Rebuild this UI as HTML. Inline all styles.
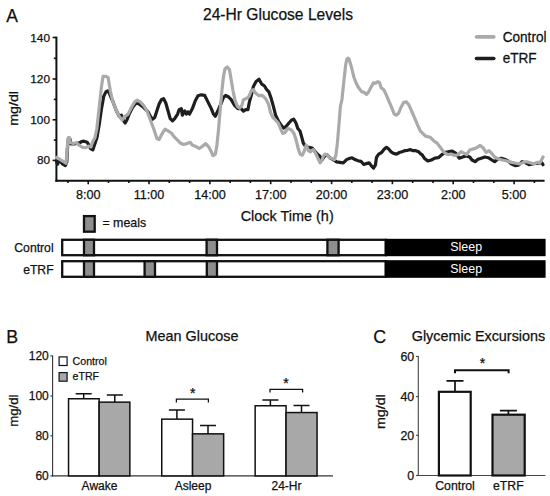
<!DOCTYPE html>
<html><head><meta charset="utf-8"><title>Figure</title>
<style>
html,body{margin:0;padding:0;background:#fff;}
body{width:550px;height:496px;overflow:hidden;font-family:"Liberation Sans",sans-serif;}
svg{display:block;}
svg text{font-family:"Liberation Sans",sans-serif;fill:#111;stroke:#111;stroke-width:0.25px;}
</style></head><body>
<svg width="550" height="496" viewBox="0 0 550 496">
<rect width="550" height="496" fill="#fff"/>
<text x="6.2" y="21.7" font-size="17.5">A</text>
<text x="278" y="19.6" font-size="15.6" text-anchor="middle">24-Hr Glucose Levels</text>
<g stroke="#111" stroke-width="2" fill="none">
<path d="M56.4,36.6 V181.8"/>
<path d="M55.4,180.8 H544.6"/>
</g>
<g stroke="#111" stroke-width="1.6" fill="none">
<path d="M52.6,37.5 H56"/>
<path d="M52.6,79 H56"/>
<path d="M52.6,119.8 H56"/>
<path d="M52.6,160.4 H56"/>
<path d="M53.8,58.3 H56"/>
<path d="M53.8,99.4 H56"/>
<path d="M53.8,140.1 H56"/>
<path d="M67.9,181 V183"/>
<path d="M88.2,181 V184.2"/>
<path d="M108.5,181 V183"/>
<path d="M128.8,181 V183"/>
<path d="M149.0,181 V184.2"/>
<path d="M169.3,181 V183"/>
<path d="M189.6,181 V183"/>
<path d="M209.9,181 V184.2"/>
<path d="M230.2,181 V183"/>
<path d="M250.4,181 V183"/>
<path d="M270.7,181 V184.2"/>
<path d="M291.0,181 V183"/>
<path d="M311.3,181 V183"/>
<path d="M331.6,181 V184.2"/>
<path d="M351.8,181 V183"/>
<path d="M372.1,181 V183"/>
<path d="M392.4,181 V184.2"/>
<path d="M412.7,181 V183"/>
<path d="M433.0,181 V183"/>
<path d="M453.2,181 V184.2"/>
<path d="M473.5,181 V183"/>
<path d="M493.8,181 V183"/>
<path d="M514.1,181 V184.2"/>
<path d="M534.4,181 V183"/>
</g>
<text x="50" y="41.5" font-size="11.8" text-anchor="end">140</text>
<text x="50" y="83.0" font-size="11.8" text-anchor="end">120</text>
<text x="50" y="123.8" font-size="11.8" text-anchor="end">100</text>
<text x="50" y="164.4" font-size="11.8" text-anchor="end">80</text>
<text x="88.2" y="199.2" font-size="12.6" text-anchor="middle">8:00</text>
<text x="149.0" y="199.2" font-size="12.6" text-anchor="middle">11:00</text>
<text x="209.9" y="199.2" font-size="12.6" text-anchor="middle">14:00</text>
<text x="270.7" y="199.2" font-size="12.6" text-anchor="middle">17:00</text>
<text x="331.6" y="199.2" font-size="12.6" text-anchor="middle">20:00</text>
<text x="392.4" y="199.2" font-size="12.6" text-anchor="middle">23:00</text>
<text x="453.2" y="199.2" font-size="12.6" text-anchor="middle">2:00</text>
<text x="514.1" y="199.2" font-size="12.6" text-anchor="middle">5:00</text>
<text transform="translate(18.2,108.4) rotate(-90) scale(1.15,1)" font-size="12.4" text-anchor="middle">mg/dl</text>
<path d="M56.5,161.5 L57.6,164.2 L58.6,161.0 L60.4,161.5 L62.7,164.2 L65.3,165.6 L66.8,162.0 L67.3,150.0 L68.4,138.5 L69.8,138.5 L71.1,144.0 L73.7,143.8 L77.1,143.4 L79.5,142.9 L81.5,141.6 L84.0,141.2 L87.1,142.2 L88.8,145.0 L90.5,148.6 L92.8,149.9 L94.8,144.1 L97.0,137.4 L99.3,124.1 L101.5,108.6 L103.7,96.4 L105.9,91.9 L107.7,90.8 L109.2,93.0 L111.5,98.6 L112.6,100.8 L115.9,109.7 L119.2,116.3 L121.4,115.2 L123.7,120.8 L125.2,123.0 L127.0,119.7 L129.2,114.1 L132.5,107.5 L135.9,103.0 L139.2,104.1 L142.5,106.4 L145.8,109.7 L148.1,111.9 L150.3,116.3 L152.5,119.2 L154.7,117.5 L156.9,110.8 L159.1,104.1 L161.4,99.7 L163.6,98.6 L165.8,103.0 L168.0,110.8 L170.2,118.6 L172.5,120.8 L174.7,118.6 L177.6,114.1 L179.1,109.7 L181.3,108.6 L182.4,115.2 L184.7,110.8 L186.4,114.1 L188.0,111.9 L189.5,114.1 L192.4,108.6 L195.3,100.8 L198.0,95.7 L201.3,94.8 L204.6,95.3 L207.9,101.9 L211.3,108.6 L213.5,114.1 L215.3,116.3 L217.9,110.8 L221.3,103.0 L223.5,97.5 L225.7,95.3 L228.6,97.0 L231.2,99.7 L234.6,105.3 L237.9,108.6 L241.2,108.6 L243.4,111.2 L245.7,109.7 L247.9,109.7 L249.4,101.9 L251.6,94.2 L253.4,86.4 L256.1,81.5 L259.0,79.3 L261.8,84.2 L264.5,86.0 L266.7,89.7 L268.9,91.9 L271.2,98.6 L273.4,106.4 L275.6,115.2 L278.3,120.8 L280.5,124.1 L283.4,128.1 L286.3,126.3 L288.9,123.0 L291.6,120.1 L293.8,119.2 L296.0,123.0 L297.8,128.5 L300.0,131.0 L301.8,137.4 L303.3,143.0 L305.5,146.3 L308.9,147.4 L312.2,148.1 L314.4,150.7 L317.3,154.1 L320.0,156.3 L322.2,159.6 L324.4,156.3 L327.1,154.7 L329.9,157.8 L333.3,159.6 L336.6,161.8 L339.9,162.3 L343.3,162.9 L346.6,159.6 L349.2,158.5 L352.1,157.8 L355.0,159.6 L358.1,160.7 L361.0,161.4 L363.9,164.5 L366.5,163.6 L369.2,162.9 L371.4,165.8 L373.6,168.0 L375.4,165.1 L376.5,157.4 L378.7,154.1 L381.6,152.5 L384.3,149.0 L386.5,147.4 L388.7,149.0 L391.0,151.8 L393.6,153.4 L396.5,154.1 L399.4,152.5 L402.0,151.8 L404.7,150.7 L407.6,150.3 L410.5,149.6 L413.1,150.7 L415.8,150.7 L418.7,151.8 L420.9,154.1 L422.0,154.7 L424.3,158.2 L427.8,161.0 L431.3,160.0 L434.8,158.2 L438.3,157.7 L441.8,154.7 L445.3,152.4 L448.8,151.7 L452.3,151.2 L455.7,153.1 L459.2,158.2 L462.7,157.0 L466.2,155.9 L469.7,157.0 L472.0,160.0 L475.1,161.7 L477.9,159.3 L481.3,158.2 L484.8,157.0 L488.3,157.7 L491.8,160.0 L494.6,161.7 L497.6,159.3 L501.1,158.2 L504.6,159.3 L508.1,161.0 L511.6,164.0 L515.1,165.6 L518.6,165.2 L522.1,161.7 L525.6,162.8 L529.1,164.7 L532.5,164.0 L536.0,163.3 L539.5,162.8 L541.9,162.8 L543.0,164.7" fill="none" stroke="#1e1e1e" stroke-width="3.2" stroke-linejoin="round" stroke-linecap="round"/>
<path d="M56.5,157.5 L59.0,158.8 L61.5,160.3 L64.0,161.8 L66.0,163.3 L66.9,153.0 L67.7,141.5 L68.4,137.6 L69.4,137.6 L70.2,142.4 L73.1,143.5 L76.3,142.7 L79.5,145.5 L82.6,147.4 L85.8,147.6 L88.4,146.1 L90.9,146.9 L92.2,142.9 L93.5,140.2 L95.0,137.4 L96.8,129.0 L99.3,106.4 L101.5,86.4 L103.0,76.4 L105.9,76.4 L108.1,77.5 L110.3,90.8 L112.6,100.8 L115.9,109.7 L119.2,116.3 L122.1,120.1 L124.8,116.3 L128.1,114.1 L131.4,107.5 L134.7,101.9 L137.0,100.2 L140.3,101.9 L143.6,105.3 L146.9,110.8 L150.3,119.7 L153.6,128.5 L156.9,138.5 L159.1,139.6 L162.5,133.0 L165.1,129.2 L168.0,130.8 L171.3,133.0 L174.7,137.4 L177.6,140.1 L180.2,143.0 L183.5,144.5 L186.9,143.6 L190.2,142.3 L192.4,145.2 L195.7,146.3 L199.1,148.5 L202.4,146.3 L205.7,143.6 L209.1,147.4 L211.3,151.8 L213.0,155.6 L215.3,154.1 L216.8,146.3 L218.4,130.8 L220.1,110.8 L221.9,90.8 L223.5,76.4 L225.0,68.7 L227.2,66.9 L229.5,69.8 L231.2,79.7 L233.0,90.8 L235.2,100.8 L237.4,106.4 L239.7,108.1 L241.9,105.3 L243.4,99.7 L246.3,98.6 L249.0,96.4 L251.2,90.8 L253.4,89.7 L255.6,93.1 L259.0,95.7 L262.3,95.3 L265.6,98.6 L268.5,104.1 L270.7,113.0 L272.9,117.5 L275.6,120.1 L278.3,123.0 L280.5,128.5 L282.7,133.4 L284.9,132.5 L287.8,128.5 L291.1,129.7 L293.8,133.0 L296.0,139.6 L298.2,148.5 L300.0,154.1 L302.2,155.2 L304.0,151.8 L306.2,145.2 L308.4,150.7 L310.6,151.8 L313.3,149.6 L315.5,153.0 L317.7,157.8 L320.0,162.9 L321.7,160.7 L323.3,156.3 L324.8,154.1 L327.1,154.7 L329.3,157.8 L332.2,158.5 L334.4,159.6 L335.9,155.2 L337.3,144.1 L338.8,126.3 L340.4,106.4 L341.9,100.0 L343.1,88.4 L344.4,76.3 L345.6,65.4 L346.8,59.4 L348.0,58.1 L349.2,59.4 L350.6,64.2 L352.2,70.2 L354.0,77.5 L355.8,82.3 L358.3,87.2 L361.3,91.4 L364.3,92.6 L366.7,94.4 L368.5,92.0 L371.0,87.2 L373.4,82.9 L375.6,83.3 L377.6,81.7 L379.4,82.3 L381.2,87.8 L383.8,89.7 L386.5,95.3 L389.2,101.9 L392.1,108.6 L394.3,114.1 L396.5,115.2 L398.7,113.0 L400.9,107.5 L403.8,102.4 L406.5,101.9 L409.1,105.3 L412.0,111.9 L414.9,118.6 L417.6,125.2 L420.2,130.8 L422.0,132.6 L425.5,136.1 L430.1,137.2 L433.6,140.7 L437.1,143.1 L440.6,147.7 L444.1,152.4 L447.6,154.7 L451.1,154.0 L454.6,155.4 L458.1,154.7 L461.1,151.7 L463.9,153.1 L466.7,154.7 L469.7,150.0 L473.2,148.9 L476.7,147.7 L480.2,145.4 L483.0,147.7 L486.0,152.4 L489.0,150.7 L491.8,153.5 L494.6,157.0 L497.6,158.6 L502.3,160.0 L506.9,161.0 L511.6,162.4 L516.3,163.3 L519.7,164.0 L523.2,162.4 L526.7,161.7 L530.2,162.8 L533.7,164.0 L537.2,162.4 L540.2,162.4 L541.9,159.3 L543.0,157.0" fill="none" stroke="#aaaaaa" stroke-width="3.2" stroke-linejoin="round" stroke-linecap="round"/>
<path d="M476.5,36.9 H493.8" stroke="#aaaaaa" stroke-width="3.6" stroke-linecap="round"/>
<path d="M476.5,58.5 H493.8" stroke="#1e1e1e" stroke-width="3.6" stroke-linecap="round"/>
<text transform="translate(502.7,42.1) scale(1,1.08)" font-size="13.6">Control</text>
<text transform="translate(502.7,62.6) scale(1,1.08)" font-size="13.6">eTRF</text>
<text x="287.2" y="221.4" font-size="14.45" text-anchor="middle">Clock Time (h)</text>
<rect x="84" y="216.1" width="10.7" height="15.6" fill="#8e8e8e" stroke="#111" stroke-width="2.3"/>
<text x="102.4" y="226.5" font-size="12.4">= meals</text>
<text x="53.6" y="252.3" font-size="12.2" text-anchor="end">Control</text>
<text x="53.6" y="273.7" font-size="12.2" text-anchor="end">eTRF</text>
<rect x="62.2" y="239.8" width="323.40000000000003" height="15.399999999999977" fill="#fff" stroke="#111" stroke-width="2.3"/>
<rect x="385" y="238.8" width="160.60000000000002" height="17.399999999999977" fill="#000"/>
<rect x="84" y="239.8" width="10" height="15.399999999999977" fill="#8e8e8e" stroke="#111" stroke-width="2.3"/>
<rect x="206.6" y="239.8" width="10.400000000000006" height="15.399999999999977" fill="#8e8e8e" stroke="#111" stroke-width="2.3"/>
<rect x="327.4" y="239.8" width="11.200000000000045" height="15.399999999999977" fill="#8e8e8e" stroke="#111" stroke-width="2.3"/>
<rect x="62.2" y="261.2" width="323.40000000000003" height="15.600000000000023" fill="#fff" stroke="#111" stroke-width="2.3"/>
<rect x="385" y="260.2" width="160.60000000000002" height="17.600000000000023" fill="#000"/>
<rect x="84" y="261.2" width="10" height="15.600000000000023" fill="#8e8e8e" stroke="#111" stroke-width="2.3"/>
<rect x="144.6" y="261.2" width="10.400000000000006" height="15.600000000000023" fill="#8e8e8e" stroke="#111" stroke-width="2.3"/>
<rect x="206.8" y="261.2" width="10.199999999999989" height="15.600000000000023" fill="#8e8e8e" stroke="#111" stroke-width="2.3"/>
<text x="466.2" y="251.2" font-size="12.4" text-anchor="middle" style="fill:#fff;stroke:none">Sleep</text>
<text x="466.2" y="272.8" font-size="12.4" text-anchor="middle" style="fill:#fff;stroke:none">Sleep</text>
<text x="6.2" y="342.5" font-size="17.8">B</text>
<text x="192" y="340.9" font-size="14.4" text-anchor="middle">Mean Glucose</text>
<g stroke="#333" stroke-width="1.1" fill="none">
<path d="M52.6,355.4 V476.5"/>
<path d="M52,475.9 H333"/>
<path d="M50.4,355.9 H52.6"/>
<path d="M50.4,396.0 H52.6"/>
<path d="M50.4,435.8 H52.6"/>
<path d="M50.4,475.9 H52.6"/>
</g>
<text x="48.8" y="360.2" font-size="12" text-anchor="end">120</text>
<text x="48.8" y="400.3" font-size="12" text-anchor="end">100</text>
<text x="48.8" y="440.1" font-size="12" text-anchor="end">80</text>
<text x="48.8" y="480.2" font-size="12" text-anchor="end">60</text>
<text transform="translate(17.6,410.7) rotate(-90) scale(1.10,1)" font-size="12" text-anchor="middle">mg/dl</text>
<rect x="59.1" y="356.9" width="8" height="8.6" fill="#fff" stroke="#111" stroke-width="1.2"/>
<rect x="59.1" y="372.6" width="8" height="8.6" fill="#a8a8a8" stroke="#111" stroke-width="1.2"/>
<text x="72.6" y="364.9" font-size="10.6">Control</text>
<text x="72.6" y="380.2" font-size="10.6">eTRF</text>
<path d="M83.7,398.7 V393.8 M75.7,393.8 H91.7" stroke="#111" stroke-width="1.5" fill="none"/>
<path d="M114.8,401.9 V395 M106.8,395 H122.8" stroke="#111" stroke-width="1.5" fill="none"/>
<rect x="68.55" y="398.75" width="30.60" height="77.15" fill="#fff" stroke="#111" stroke-width="1.5"/>
<rect x="99.15" y="402.15" width="30.70" height="73.75" fill="#a8a8a8" stroke="#111" stroke-width="1.5"/>
<path d="M176.9,419.1 V409.9 M168.9,409.9 H184.9" stroke="#111" stroke-width="1.5" fill="none"/>
<path d="M208,433.8 V425.6 M200,425.6 H216" stroke="#111" stroke-width="1.5" fill="none"/>
<rect x="161.75" y="419.15" width="30.80" height="56.75" fill="#fff" stroke="#111" stroke-width="1.5"/>
<rect x="192.55" y="433.85" width="31.10" height="42.05" fill="#a8a8a8" stroke="#111" stroke-width="1.5"/>
<path d="M176.4,402.4 V399.2 H208.4 V402.4" stroke="#111" stroke-width="1.3" fill="none"/>
<text x="192.7" y="397.6" font-size="14" text-anchor="middle">*</text>
<path d="M270.4,405.5 V400 M262.4,400 H278.4" stroke="#111" stroke-width="1.5" fill="none"/>
<path d="M301.5,412.4 V405.6 M293.5,405.6 H309.5" stroke="#111" stroke-width="1.5" fill="none"/>
<rect x="255.15" y="405.75" width="30.90" height="70.15" fill="#fff" stroke="#111" stroke-width="1.5"/>
<rect x="286.05" y="412.55" width="31.00" height="63.35" fill="#a8a8a8" stroke="#111" stroke-width="1.5"/>
<path d="M270,392.59999999999997 V389.4 H302.6 V392.59999999999997" stroke="#111" stroke-width="1.3" fill="none"/>
<text x="286.1" y="388.3" font-size="14" text-anchor="middle">*</text>
<text x="99.5" y="490" font-size="12" text-anchor="middle">Awake</text>
<text x="193" y="490" font-size="12" text-anchor="middle">Asleep</text>
<text x="286.5" y="490" font-size="12" text-anchor="middle">24-Hr</text>
<text x="373.2" y="342.5" font-size="17.8">C</text>
<text x="478.5" y="341.3" font-size="14.4" text-anchor="middle">Glycemic Excursions</text>
<g stroke="#444" stroke-width="1.1" fill="none">
<path d="M418.3,355.9 V476"/>
<path d="M417.8,475.5 H545.4"/>
<path d="M416,356.4 H418.3"/>
<path d="M416,396.6 H418.3"/>
<path d="M416,435.3 H418.3"/>
<path d="M416,475.5 H418.3"/>
</g>
<text x="414.2" y="360.8" font-size="12.4" text-anchor="end">60</text>
<text x="414.2" y="401.0" font-size="12.4" text-anchor="end">40</text>
<text x="414.2" y="439.7" font-size="12.4" text-anchor="end">20</text>
<text x="414.2" y="479.9" font-size="12.4" text-anchor="end">0</text>
<text transform="translate(384.8,411.7) rotate(-90) scale(1.15,1)" font-size="12.4" text-anchor="middle">mg/dl</text>
<path d="M455,391.5 V380.8 M446.5,380.8 H463.5" stroke="#111" stroke-width="1.7" fill="none"/>
<path d="M508.4,414.5 V410.6 M499.9,410.6 H516.9" stroke="#111" stroke-width="1.7" fill="none"/>
<rect x="438.90" y="391.80" width="31.80" height="83.70" fill="#fff" stroke="#111" stroke-width="2.2"/>
<rect x="492.50" y="414.70" width="32.20" height="60.80" fill="#a8a8a8" stroke="#111" stroke-width="2.2"/>
<path d="M455,373.2 V370.2 H508.6 V373.2" stroke="#111" stroke-width="2" fill="none"/>
<text x="482.5" y="368.1" font-size="14" text-anchor="middle">*</text>
<text x="455" y="490.2" font-size="12.3" text-anchor="middle">Control</text>
<text x="508.4" y="490.2" font-size="12.3" text-anchor="middle">eTRF</text>
</svg></body></html>
